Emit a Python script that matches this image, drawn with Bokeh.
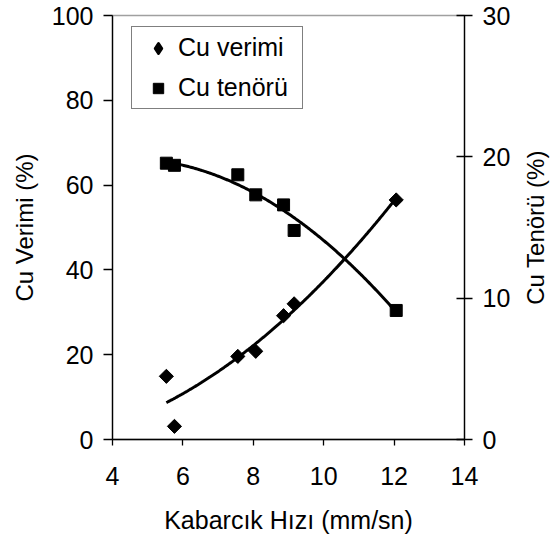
import numpy as np
from bokeh.plotting import figure
from bokeh.models import (Range1d, LinearAxis, FixedTicker, Legend, LegendItem,
                          ColumnDataSource, Label)
from bokeh.embed import file_html
from bokeh.resources import INLINE

# Bubble velocity (mm/s) and flotation results
hiz = [5.53, 5.76, 7.56, 8.07, 8.86, 9.16, 12.06]
cu_verimi = [14.9, 3.1, 19.6, 20.8, 29.2, 32.0, 56.5]      # recovery, %
cu_tenoru = [19.55, 19.4, 18.73, 17.31, 16.6, 14.79, 9.13]  # grade, %

x_ticks = [4, 6, 8, 10, 12, 14]
left_ticks = [0, 20, 40, 60, 80, 100]
right_ticks = [0, 10, 20, 30]

FONT = "Liberation Sans"
FS = "25px"
FS_LABEL = "24px"

p = figure(width=559, height=543, output_backend="svg", toolbar_location=None,
           x_range=Range1d(4, 14), y_range=Range1d(0, 100),
           min_border_left=112, min_border_right=95, min_border_top=15,
           min_border_bottom=104)
p.extra_y_ranges = {"ten": Range1d(0, 30)}
p.grid.visible = False
p.outline_line_color = "#a0a0a0"
p.outline_line_width = 1.5
p.background_fill_color = "white"
p.border_fill_color = "white"

def style_axis(ax):
    ax.axis_line_color = "black"
    ax.axis_line_width = 1.3
    ax.major_tick_line_color = "black"
    ax.major_tick_line_width = 1.3
    ax.minor_tick_line_color = None
    ax.major_label_text_font = FONT
    ax.major_label_text_font_size = FS
    ax.major_label_text_color = "black"
    ax.axis_label_text_font = FONT
    ax.axis_label_text_font_size = FS_LABEL
    ax.axis_label_text_font_style = "normal"
    ax.axis_label_text_color = "black"

xa = p.xaxis[0]
style_axis(xa)
xa.ticker = FixedTicker(ticks=x_ticks)
xa.major_tick_in = 0
xa.major_tick_out = 6
xa.major_label_standoff = 21
xa.axis_label = "Kabarcık Hızı (mm/sn)"
xa.axis_label_text_font_size = FS
xa.axis_label_standoff = 18

ya = p.yaxis[0]
style_axis(ya)
ya.ticker = FixedTicker(ticks=left_ticks)
ya.major_tick_in = 0
ya.major_tick_out = 9
ya.major_label_standoff = 10
ya.axis_label = "Cu Verimi (%)"
ya.axis_label_standoff = 11

ra = LinearAxis(y_range_name="ten")
style_axis(ra)
ra.ticker = FixedTicker(ticks=right_ticks)
ra.major_tick_in = 8
ra.major_tick_out = 8
ra.major_label_standoff = 10
p.add_layout(ra, "right")

# right-hand axis title, reading bottom to top like the left one
p.add_layout(Label(x=22, y=212, x_units="screen", y_units="screen",
                   text="Cu Tenörü (%)", angle=np.pi / 2,
                   text_align="center", text_baseline="middle",
                   text_font=FONT, text_font_size=FS_LABEL, text_color="black"),
             "right")

# second-order polynomial trend lines fitted to each series
xs = np.linspace(min(hiz), max(hiz), 200)
fit_v = np.polyval(np.polyfit(hiz, cu_verimi, 2), xs)
fit_t = np.polyval(np.polyfit(hiz, cu_tenoru, 2), xs)
p.line(xs, fit_v, line_color="black", line_width=3)
p.line(xs, fit_t, line_color="black", line_width=3, y_range_name="ten")

src = ColumnDataSource(dict(x=hiz, v=cu_verimi, t=cu_tenoru))
# upright diamonds used as the legend key; the rotated squares drawn on top hide them
key_v = p.scatter("x", "v", source=src, marker="diamond", size=10,
                  fill_color="black", line_color="black", line_width=2.5,
                  line_join="round")
r_v = p.scatter("x", "v", source=src, marker="square", angle=np.pi / 4,
                size=10, fill_color="black", line_color="black")
r_t = p.scatter("x", "t", source=src, marker="square", size=12,
                fill_color="black", line_color="black", y_range_name="ten")

legend = Legend(items=[LegendItem(label="Cu verimi", renderers=[key_v]),
                       LegendItem(label="Cu tenörü", renderers=[r_t])],
                location=(19, 330))
legend.label_text_font = FONT
legend.label_text_font_size = FS
legend.label_text_color = "black"
legend.border_line_color = "black"
legend.border_line_width = 1.3
legend.background_fill_color = "white"
legend.background_fill_alpha = 1
legend.padding = 6
legend.spacing = 11
legend.glyph_width = 40
legend.glyph_height = 26
legend.label_height = 26
legend.label_width = 118
legend.label_standoff = 0
legend.margin = 0
p.add_layout(legend, "center")

open("out.html", "w").write(file_html(p, INLINE))
